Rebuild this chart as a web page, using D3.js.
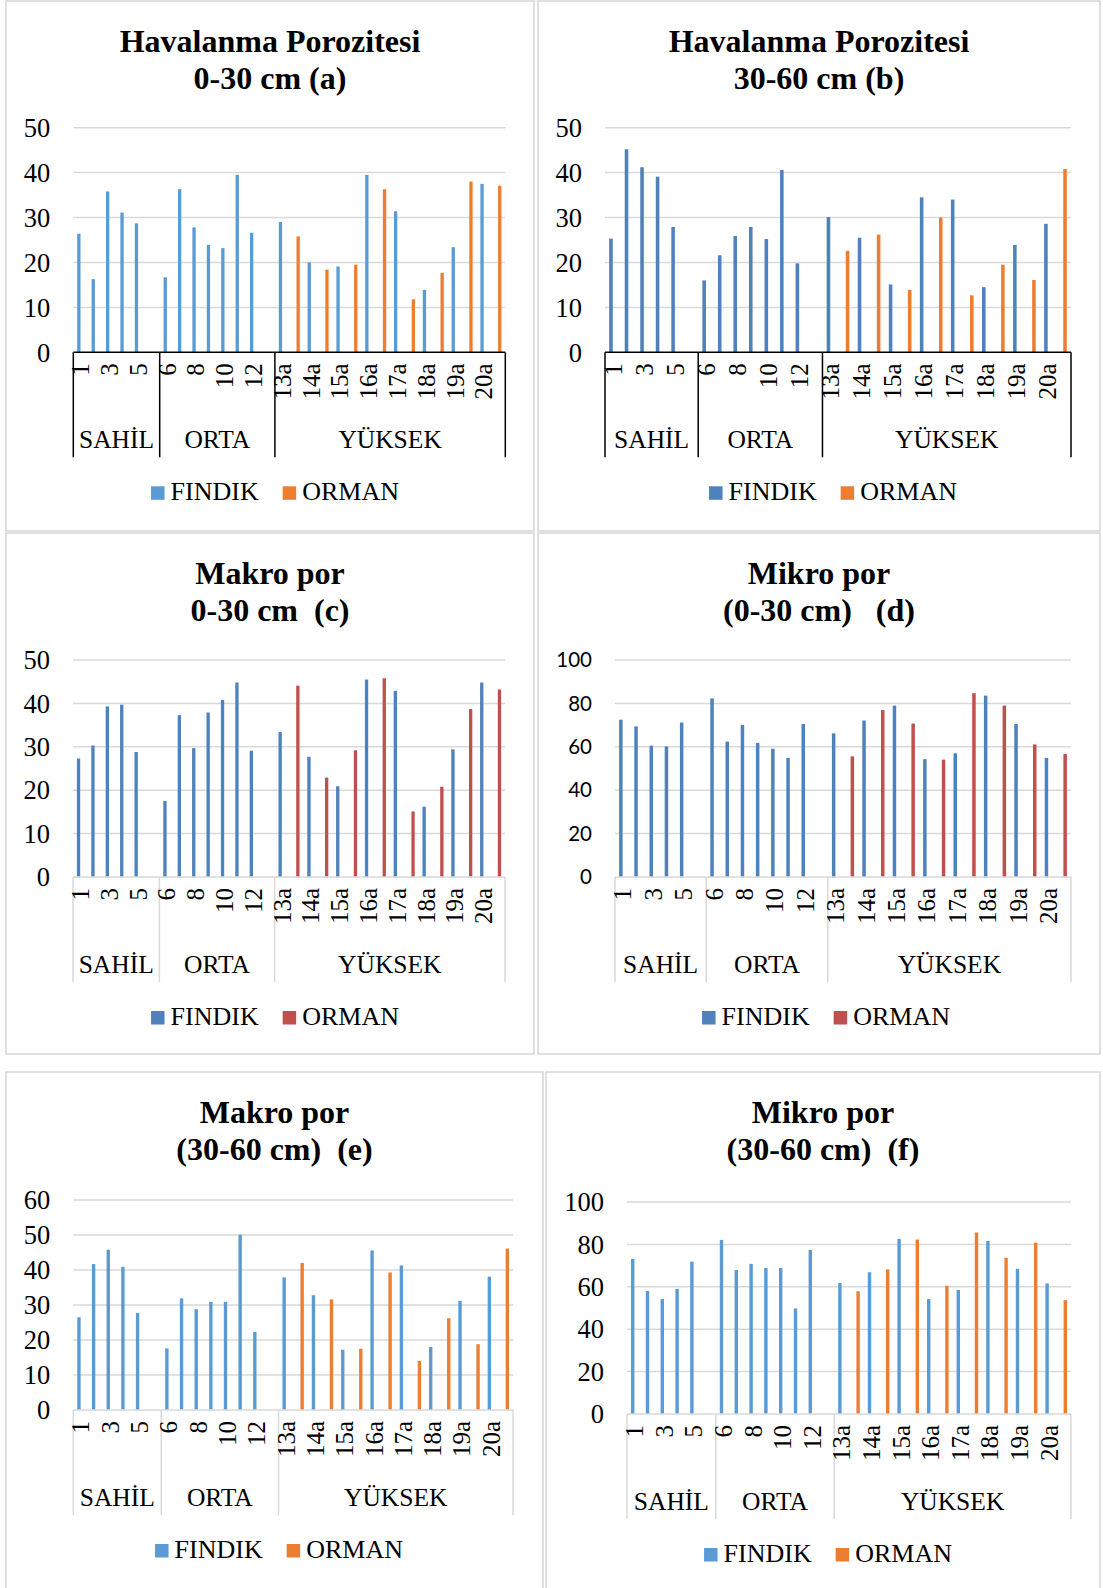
<!DOCTYPE html>
<html>
<head>
<meta charset="utf-8">
<script src="https://cdn.jsdelivr.net/npm/d3@7"></script>
<style>
  body { margin: 0; background: #fff; }
  svg { display: block; }
  text { font-family: "Liberation Serif", "Times New Roman", serif; fill: #000; }
</style>
</head>
<body>
<div id="chart"></div>
<script>
// categories of the two-level axis (odd YÜKSEK slots carry the ORMAN plots)
const categories = ["1", "2", "3", "4", "5", "",
    "6", "7", "8", "9", "10", "11", "12", "",
    "13a", "13b", "14a", "14b", "15a", "15b", "16a", "16b",
    "17a", "17b", "18a", "18b", "19a", "19b", "20a", "20b"]
const groups = ["SAHİL", "ORTA", "YÜKSEK"]
const groupSizes = [6, 8, 16]
const seriesNames = ["FINDIK", "ORMAN"]
const _ = null

const havaFindik030 = [26.4, 16.3, 35.8, 31.1, 28.7, _, 16.7, 36.3, 27.8, 23.9, 23.2, 39.5, 26.6, _,
    29.0, _, 20.0, _, 19.1, _, 39.5, _, 31.4, _, 13.9, _, 23.4, _, 37.5, _]
const havaOrman030 = [_, _, _, _, _, _, _, _, _, _, _, _, _, _,
    _, 25.8, _, 18.4, _, 19.5, _, 36.3, _, 11.8, _, 17.7, _, 38.0, _, 37.1]

const havaFindik3060 = [25.3, 45.2, 41.2, 39.1, 27.9, _, 16.0, 21.6, 25.9, 27.9, 25.2, 40.6, 19.8, _,
    30.1, _, 25.5, _, 15.1, _, 34.5, _, 34.0, _, 14.5, _, 23.9, _, 28.6, _]
const havaOrman3060 = [_, _, _, _, _, _, _, _, _, _, _, _, _, _,
    _, 22.6, _, 26.2, _, 13.9, _, 30.0, _, 12.7, _, 19.5, _, 16.1, _, 40.8]

const makroFindik030 = [27.3, 30.3, 39.3, 39.7, 28.8, _, 17.5, 37.3, 29.7, 37.9, 40.8, 44.8, 29.1, _,
    33.4, _, 27.7, _, 20.9, _, 45.5, _, 42.9, _, 16.2, _, 29.4, _, 44.8, _]
const makroOrman030 = [_, _, _, _, _, _, _, _, _, _, _, _, _, _,
    _, 44.1, _, 22.9, _, 29.2, _, 45.8, _, 15.1, _, 20.8, _, 38.7, _, 43.2]

const mikroFindik030 = [72.5, 69.4, 60.5, 60.2, 71.2, _, 82.3, 62.4, 70.1, 61.8, 59.1, 54.9, 70.5, _,
    66.2, _, 72.1, _, 79.0, _, 54.3, _, 57.0, _, 83.6, _, 70.5, _, 54.9, _]
const mikroOrman030 = [_, _, _, _, _, _, _, _, _, _, _, _, _, _,
    _, 55.6, _, 76.9, _, 70.7, _, 54.1, _, 84.7, _, 79.0, _, 61.1, _, 56.7]

const makroFindik3060 = [26.5, 41.7, 45.8, 40.9, 27.7, _, 17.6, 31.9, 28.8, 30.9, 30.9, 50.1, 22.3, _,
    37.9, _, 32.8, _, 17.2, _, 45.6, _, 41.3, _, 18.0, _, 31.2, _, 38.1, _]
const makroOrman3060 = [_, _, _, _, _, _, _, _, _, _, _, _, _, _,
    _, 42.0, _, 31.6, _, 17.5, _, 39.3, _, 14.0, _, 26.2, _, 18.8, _, 46.1]

const mikroFindik3060 = [73.2, 58.1, 54.2, 59.0, 71.9, _, 82.1, 67.9, 70.8, 68.9, 68.9, 49.8, 77.4, _,
    61.8, _, 66.9, _, 82.6, _, 54.2, _, 58.5, _, 81.6, _, 68.5, _, 61.6, _]
const mikroOrman3060 = [_, _, _, _, _, _, _, _, _, _, _, _, _, _,
    _, 57.9, _, 68.2, _, 82.3, _, 60.5, _, 85.6, _, 73.7, _, 80.8, _, 53.7]

const titles = [
    ["Havalanma Porozitesi", "0-30 cm (a)"],
    ["Havalanma Porozitesi", "30-60 cm (b)"],
    ["Makro por", "0-30 cm  (c)"],
    ["Mikro por", "(0-30 cm)   (d)"],
    ["Makro por", "(30-60 cm)  (e)"],
    ["Mikro por", "(30-60 cm)  (f)"]
]
const yMax = [50, 50, 50, 100, 60, 100]
const yStep = [10, 10, 10, 20, 10, 20]

// layout: panel boxes and plot areas
const panels = [
    { box: [6, 1, 528, 530], plot: [73.3, 505.3, 127.7, 352.3], legendX: 275, dark: true,
      colors: ["#5B9BD5", "#ED7D31"], data: [havaFindik030, havaOrman030] },
    { box: [538, 1, 562, 530], plot: [605, 1071, 127.7, 352.3], legendX: 833, dark: true,
      colors: ["#4F81BD", "#ED7D31"], data: [havaFindik3060, havaOrman3060] },
    { box: [6, 533, 528, 521], plot: [73, 505, 660, 877], legendX: 275,
      colors: ["#4F81BD", "#C0504D"], data: [makroFindik030, makroOrman030] },
    { box: [538, 533, 562, 521], plot: [615, 1071, 660, 877], legendX: 826, sansY: true,
      colors: ["#4F81BD", "#C0504D"], data: [mikroFindik030, mikroOrman030] },
    { box: [6, 1072, 537, 540], plot: [73.3, 513, 1200, 1410], legendX: 279,
      colors: ["#5B9BD5", "#ED7D31"], data: [makroFindik3060, makroOrman3060] },
    { box: [546, 1072, 554, 540], plot: [627, 1071, 1202, 1414], legendX: 828,
      colors: ["#5B9BD5", "#ED7D31"], data: [mikroFindik3060, mikroOrman3060] }
]

const svg = d3.select("#chart").append("svg")
    .attr("width", 1103)
    .attr("height", 1588)

panels.forEach((p, k) => {
    const [bx, by, bw, bh] = p.box
    const [left, right, top, bottom] = p.plot
    const g = svg.append("g")
    const axisColor = p.dark ? "#000" : "#d9d9d9"

    g.append("rect")
        .attr("x", bx).attr("y", by)
        .attr("width", bw).attr("height", bh)
        .attr("fill", "#fff")
        .attr("stroke", "#d6d6d6")
        .attr("stroke-width", 1.5)

    // title
    const cx = bx + bw / 2
    g.append("text")
        .attr("x", cx).attr("y", by + 51)
        .attr("text-anchor", "middle")
        .attr("font-size", 32).attr("font-weight", "bold")
        .text(titles[k][0])
    g.append("text")
        .attr("x", cx).attr("y", by + 88)
        .attr("text-anchor", "middle")
        .attr("font-size", 32).attr("font-weight", "bold")
        .attr("xml:space", "preserve")
        .style("white-space", "pre")
        .text(titles[k][1])

    const x = d3.scaleBand()
        .domain(d3.range(categories.length))
        .range([left, right])
    const y = d3.scaleLinear()
        .domain([0, yMax[k]])
        .range([bottom, top])
    const w = x.bandwidth() * 0.23

    // gridlines + y labels
    const ticks = d3.range(0, yMax[k] + 1, yStep[k])
    g.selectAll(".grid").data(ticks.filter(t => t > 0)).enter().append("line")
        .attr("x1", left).attr("x2", right)
        .attr("y1", d => y(d)).attr("y2", d => y(d))
        .attr("stroke", "#d9d9d9").attr("stroke-width", 1.5)
    g.selectAll(".ylab").data(ticks).enter().append("text")
        .attr("x", left - 23).attr("y", d => y(d))
        .attr("dy", "0.35em")
        .attr("text-anchor", "end")
        .attr("font-size", p.sansY ? 20.5 : 26.5)
        .style("font-family", p.sansY ? "Lato, 'Liberation Sans', sans-serif" : null)
        .text(d => d)

    // bars
    p.data.forEach((vals, s) => {
        g.selectAll(".bar" + s)
            .data(vals.map((v, i) => ({ v, i })).filter(d => d.v != null))
            .enter().append("rect")
            .attr("x", d => x(d.i) + x.bandwidth() / 2 - (s === 0 ? w : 0))
            .attr("width", w)
            .attr("y", d => y(d.v))
            .attr("height", d => y(0) - y(d.v))
            .attr("fill", p.colors[s])
    })

    // category axis
    g.append("line")
        .attr("x1", left).attr("x2", right)
        .attr("y1", bottom).attr("y2", bottom)
        .attr("stroke", axisColor).attr("stroke-width", 1.5)
    let start = 0
    const bounds = [0]
    groupSizes.forEach(n => { start += n; bounds.push(start) })
    g.selectAll(".sep").data(bounds).enter().append("line")
        .attr("x1", d => x.step() * d + left).attr("x2", d => x.step() * d + left)
        .attr("y1", bottom).attr("y2", bottom + 105)
        .attr("stroke", axisColor).attr("stroke-width", 1.5)

    g.selectAll(".xlab")
        .data(categories.map((c, i) => ({ c, i })).filter(d => d.i % 2 === 0))
        .enter().append("text")
        .attr("transform", d => `translate(${x(d.i) + x.bandwidth() / 2},${bottom + 11}) rotate(-90)`)
        .attr("dy", "0.35em")
        .attr("text-anchor", "end")
        .attr("font-size", 25)
        .text(d => d.c)

    g.selectAll(".glab").data(groups).enter().append("text")
        .attr("x", (d, i) => left + x.step() * (bounds[i] + bounds[i + 1]) / 2)
        .attr("y", bottom + 96)
        .attr("text-anchor", "middle")
        .attr("font-size", 25.5)
        .text(d => d)

    // legend
    const lg = g.append("g")
    let lx = 0
    seriesNames.forEach((name, s) => {
        lg.append("rect")
            .attr("x", lx).attr("y", bottom + 134)
            .attr("width", 13.5).attr("height", 13.5)
            .attr("fill", p.colors[s])
        const t = lg.append("text")
            .attr("x", lx + 19.5).attr("y", bottom + 148)
            .attr("font-size", 26)
            .text(name)
        lx += 19.5 + t.node().getComputedTextLength() + 24
    })
    const lw = lx - 24
    lg.attr("transform", `translate(${p.legendX - lw / 2},0)`)
})
</script>
</body>
</html>
